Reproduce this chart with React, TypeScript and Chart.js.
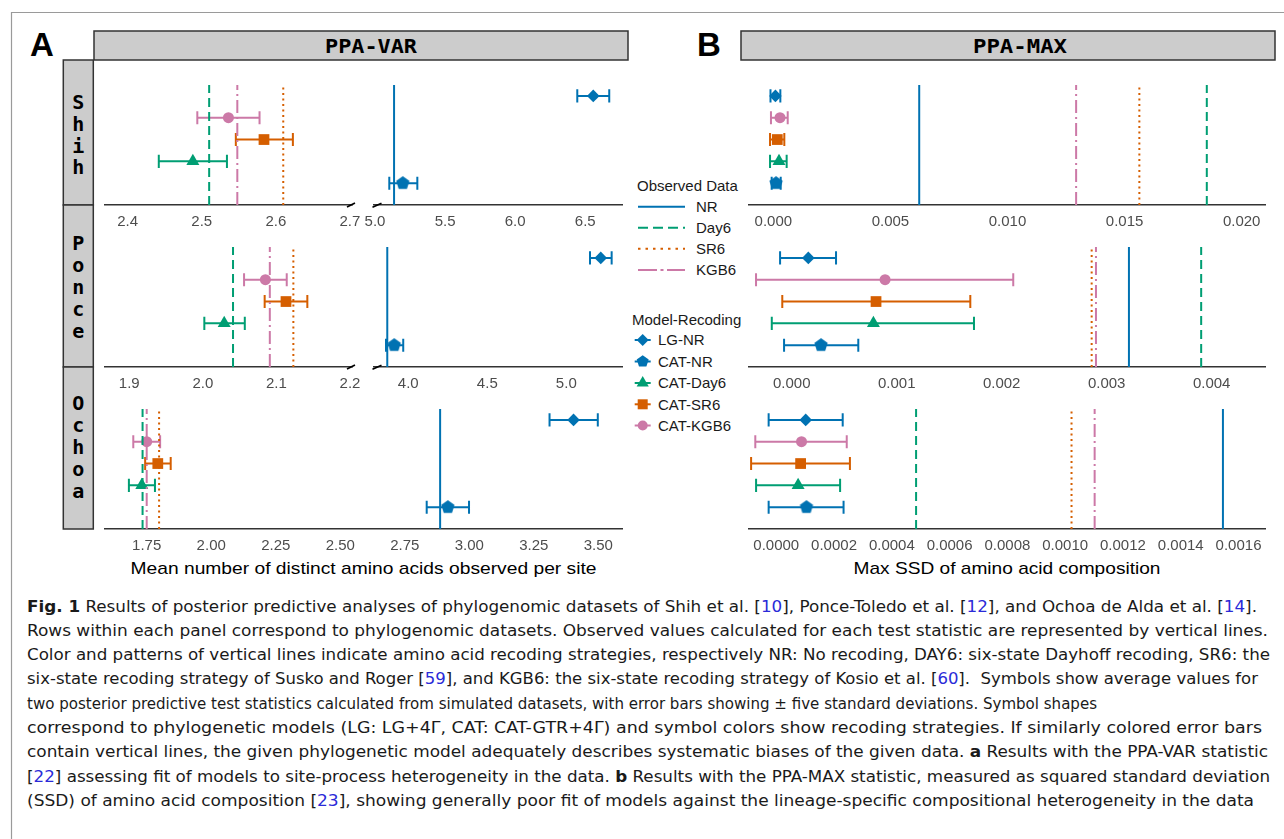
import React, { useEffect, useRef } from 'react';
import { Chart, registerables } from 'chart.js';
Chart.register(...registerables);

const FONT = "'Liberation Sans', Arial, sans-serif";
const MONO = "'DejaVu Sans Mono', monospace";
const CAPTION_FONT = "'DejaVu Sans Condensed', 'DejaVu Sans', sans-serif";

// ---------------- categories ----------------
const observedCodes = ['NR', 'Day6', 'SR6', 'KGB6'];
const models = ['LG-NR', 'CAT-NR', 'CAT-Day6', 'CAT-SR6', 'CAT-KGB6'];
const rowOrderBottomUp = ['CAT-NR', 'CAT-Day6', 'CAT-SR6', 'CAT-KGB6', 'LG-NR'];
const dataSets = ['Shih', 'Ponce', 'Ochoa'];

// ---------------- PPA-VAR ----------------
// observed values: NR, Day6, SR6, KGB6
const varObsShih = [5.136, 2.510, 2.610, 2.548];
const varObsPonce = [3.867, 2.041, 2.123, 2.091];
const varObsOchoa = [2.887, 1.734, 1.798, 1.750];
// simulated: LG-NR, CAT-NR, CAT-Day6, CAT-SR6, CAT-KGB6
const varMeanShih = [6.557, 5.198, 2.488, 2.584, 2.536];
const varLoShih = [6.443, 5.102, 2.442, 2.546, 2.494];
const varHiShih = [6.671, 5.302, 2.534, 2.623, 2.578];
const varMeanPonce = [5.218, 3.911, 2.029, 2.113, 2.085];
const varLoPonce = [5.150, 3.859, 2.002, 2.084, 2.056];
const varHiPonce = [5.287, 3.968, 2.057, 2.142, 2.114];
const varMeanOchoa = [3.404, 2.917, 1.731, 1.793, 1.750];
const varLoOchoa = [3.311, 2.835, 1.681, 1.744, 1.698];
const varHiOchoa = [3.498, 2.999, 1.782, 1.843, 1.802];

// ---------------- PPA-MAX ----------------
const maxObsShih = [0.00623, 0.01851, 0.01563, 0.01293];
const maxObsPonce = [0.003212, 0.0039, 0.002857, 0.002898];
const maxObsOchoa = [0.001546, 0.000484, 0.001022, 0.001102];
const maxMeanShih = [0.00009, 0.000115, 0.000243, 0.00017, 0.000286];
const maxLoShih = [-0.00012, -0.00007, -0.00014, -0.00014, -0.0001];
const maxHiShih = [0.0003, 0.000316, 0.00057, 0.00047, 0.000615];
const maxMeanPonce = [0.000158, 0.000279, 0.000778, 0.000803, 0.000889];
const maxLoPonce = [-0.000111, -0.000073, -0.00019, -0.00009, -0.00034];
const maxHiPonce = [0.000422, 0.000634, 0.001736, 0.001701, 0.00211];
const maxMeanOchoa = [0.000102, 0.0001047, 0.0000757, 0.0000843, 0.0000875];
const maxLoOchoa = [-0.0000263, -0.0000263, -0.0000698, -0.000087, -0.0000725];
const maxHiOchoa = [0.00023, 0.000233, 0.000221, 0.000255, 0.000244];

// ---------------- tick labels ----------------
const varTicksShihLow = ['2.4', '2.5', '2.6', '2.7'];
const varTicksShihHigh = ['5.0', '5.5', '6.0', '6.5'];
const varTicksPonceLow = ['1.9', '2.0', '2.1', '2.2'];
const varTicksPonceHigh = ['4.0', '4.5', '5.0'];
const varTicksOchoa = ['1.75', '2.00', '2.25', '2.50', '2.75', '3.00', '3.25', '3.50'];
const maxTicksShih = ['0.000', '0.005', '0.010', '0.015', '0.020'];
const maxTicksPonce = ['0.000', '0.001', '0.002', '0.003', '0.004'];
const maxTicksOchoa = ['0.0000', '0.0002', '0.0004', '0.0006', '0.0008', '0.0010', '0.0012', '0.0014', '0.0016'];

// ---------------- styles ----------------
const CODE_COLOR: Record<string, string> = { NR: '#0072B2', Day6: '#009E73', SR6: '#D55E00', KGB6: '#CC79A7' };
const CODE_DASH: Record<string, number[]> = { NR: [], Day6: [9, 5], SR6: [2, 3.5], KGB6: [13, 4, 2, 4] };
const MODEL_CODE: Record<string, string> = { 'LG-NR': 'NR', 'CAT-NR': 'NR', 'CAT-Day6': 'Day6', 'CAT-SR6': 'SR6', 'CAT-KGB6': 'KGB6' };
const MODEL_RADIUS: Record<string, number> = { 'LG-NR': 6.3, 'CAT-NR': 7, 'CAT-Day6': 7.5, 'CAT-SR6': 7.6, 'CAT-KGB6': 5.5 };

const PADX = 40, PADT = 12, AXISH = 44, YMAX = 5.5, CAP = 0.3;

function pentagonCanvas(color: string, R: number) {
  const size = Math.ceil(2 * R + 2);
  const c = document.createElement('canvas');
  c.width = size; c.height = size;
  const g = c.getContext('2d')!;
  g.fillStyle = color;
  g.beginPath();
  for (let k = 0; k < 5; k++) {
    const a = -Math.PI / 2 + (k * 2 * Math.PI) / 5;
    const px = size / 2 + R * Math.cos(a), py = size / 2 + R * Math.sin(a);
    if (k) g.lineTo(px, py); else g.moveTo(px, py);
  }
  g.closePath(); g.fill();
  return c;
}

function modelStyle(m: string): any {
  const col = CODE_COLOR[MODEL_CODE[m]];
  if (m === 'LG-NR') return 'rectRot';
  if (m === 'CAT-NR') return pentagonCanvas(col, MODEL_RADIUS[m]);
  if (m === 'CAT-Day6') return 'triangle';
  if (m === 'CAT-SR6') return 'rect';
  return 'circle';
}

const errorBarPlugin = {
  id: 'errorBars',
  beforeDatasetDraw(chart: any, args: any) {
    const ds = chart.data.datasets[args.index];
    if (ds.errLo === undefined) return;
    const { ctx, chartArea, scales } = chart;
    const x = scales.x, y = scales.y;
    const yv = ds.data[0].y;
    const yc = y.getPixelForValue(yv);
    const capPx = Math.abs(y.getPixelForValue(yv - CAP) - yc);
    const x1 = x.getPixelForValue(ds.errLo), x2 = x.getPixelForValue(ds.errHi);
    ctx.save();
    ctx.beginPath();
    ctx.rect(chartArea.left, chartArea.top - 20, chartArea.right - chartArea.left, chartArea.bottom - chartArea.top + 40);
    ctx.clip();
    ctx.strokeStyle = ds.borderColor;
    ctx.lineWidth = 2;
    ctx.lineCap = 'butt';
    ctx.beginPath();
    ctx.moveTo(x1, yc); ctx.lineTo(x2, yc);
    ctx.moveTo(x1, yc - capPx); ctx.lineTo(x1, yc + capPx);
    ctx.moveTo(x2, yc - capPx); ctx.lineTo(x2, yc + capPx);
    ctx.stroke();
    ctx.restore();
  },
};

const breakPlugin = {
  id: 'axisBreak',
  afterDraw(chart: any, _args: any, opts: any) {
    if (!opts || !opts.side) return;
    const { ctx, chartArea } = chart;
    const yb = chartArea.bottom;
    ctx.save();
    ctx.strokeStyle = '#000';
    ctx.lineWidth = 1.6;
    ctx.beginPath();
    if (opts.side === 'right') {
      const xr = chartArea.right;
      ctx.moveTo(xr - 5, yb + 2); ctx.lineTo(xr + 3, yb - 2);
    } else {
      const xl = chartArea.left;
      ctx.moveTo(xl - 1.5, yb + 2.3); ctx.lineTo(xl + 7.5, yb - 1.7);
    }
    ctx.stroke();
    ctx.restore();
  },
};

type Spec = {
  id: string; left: number; right: number; top: number; bottom: number;
  min: number; max: number; ticks: string[];
  obs: number[]; mean: number[]; lo: number[]; hi: number[]; brk?: string;
};

const ROWS = { Shih: [85, 205], Ponce: [247, 367], Ochoa: [409, 529] };

const specs: Spec[] = [
  { id: 'var-shih-lo', left: 105, right: 352, top: ROWS.Shih[0], bottom: ROWS.Shih[1], min: 2.3694, max: 2.7028, ticks: varTicksShihLow, obs: varObsShih, mean: varMeanShih, lo: varLoShih, hi: varHiShih, brk: 'right' },
  { id: 'var-shih-hi', left: 374, right: 622, top: ROWS.Shih[0], bottom: ROWS.Shih[1], min: 4.9929, max: 6.762, ticks: varTicksShihHigh, obs: varObsShih, mean: varMeanShih, lo: varLoShih, hi: varHiShih, brk: 'left' },
  { id: 'var-ponce-lo', left: 105, right: 352, top: ROWS.Ponce[0], bottom: ROWS.Ponce[1], min: 1.867, max: 2.2027, ticks: varTicksPonceLow, obs: varObsPonce, mean: varMeanPonce, lo: varLoPonce, hi: varHiPonce, brk: 'right' },
  { id: 'var-ponce-hi', left: 374, right: 622, top: ROWS.Ponce[0], bottom: ROWS.Ponce[1], min: 3.783, max: 5.3525, ticks: varTicksPonceHigh, obs: varObsPonce, mean: varMeanPonce, lo: varLoPonce, hi: varHiPonce, brk: 'left' },
  { id: 'var-ochoa', left: 105, right: 622, top: ROWS.Ochoa[0], bottom: ROWS.Ochoa[1], min: 1.5884, max: 3.5918, ticks: varTicksOchoa, obs: varObsOchoa, mean: varMeanOchoa, lo: varLoOchoa, hi: varHiOchoa },
  { id: 'max-shih', left: 749, right: 1265, top: ROWS.Shih[0], bottom: ROWS.Shih[1], min: -0.001038, max: 0.020995, ticks: maxTicksShih, obs: maxObsShih, mean: maxMeanShih, lo: maxLoShih, hi: maxHiShih },
  { id: 'max-ponce', left: 749, right: 1265, top: ROWS.Ponce[0], bottom: ROWS.Ponce[1], min: -0.000407, max: 0.004508, ticks: maxTicksPonce, obs: maxObsPonce, mean: maxMeanPonce, lo: maxLoPonce, hi: maxHiPonce },
  { id: 'max-ochoa', left: 749, right: 1265, top: ROWS.Ochoa[0], bottom: ROWS.Ochoa[1], min: -0.0000943, max: 0.0016916, ticks: maxTicksOchoa, obs: maxObsOchoa, mean: maxMeanOchoa, lo: maxLoOchoa, hi: maxHiOchoa },
];

function buildConfig(p: Spec): any {
  const vlines = observedCodes.map((code, i) => ({
    type: 'scatter', label: code, showLine: true,
    data: [{ x: p.obs[i], y: 0 }, { x: p.obs[i], y: YMAX }],
    borderColor: CODE_COLOR[code], borderWidth: 2, borderDash: CODE_DASH[code],
    pointRadius: 0, fill: false,
  }));
  const pts = models.map((m, i) => {
    const col = CODE_COLOR[MODEL_CODE[m]];
    return {
      type: 'scatter', label: m,
      data: [{ x: p.mean[i], y: rowOrderBottomUp.indexOf(m) + 1 }],
      pointStyle: modelStyle(m), pointRadius: MODEL_RADIUS[m],
      backgroundColor: col, borderColor: col, borderWidth: 0,
      errLo: p.lo[i], errHi: p.hi[i],
    };
  });
  const tickVals = p.ticks.map((t) => parseFloat(t));
  return {
    type: 'scatter',
    data: { datasets: [...vlines, ...pts] },
    options: {
      animation: false, responsive: false, maintainAspectRatio: false, events: [],
      layout: { padding: { left: PADX, right: PADX, top: PADT, bottom: 0 } },
      plugins: { legend: { display: false }, tooltip: { enabled: false }, axisBreak: { side: p.brk } },
      scales: {
        x: {
          type: 'linear', min: p.min, max: p.max,
          grid: { display: false, drawTicks: false },
          border: { display: true, color: '#333333', width: 1.5 },
          ticks: {
            padding: 8, autoSkip: false, maxRotation: 0, color: '#4d4d4d',
            font: { family: FONT, size: 15 },
            callback: (_v: any, i: number) => p.ticks[i],
          },
          afterBuildTicks: (s: any) => { s.ticks = tickVals.map((value) => ({ value })); },
          afterFit: (s: any) => { s.height = AXISH; },
        },
        y: { type: 'linear', min: 0, max: YMAX, display: false },
      },
    },
    plugins: [errorBarPlugin, breakPlugin],
  };
}

function RowChart({ p }: { p: Spec }) {
  const ref = useRef<HTMLCanvasElement>(null);
  const w = p.right - p.left + 2 * PADX;
  const h = p.bottom - p.top + PADT + AXISH;
  useEffect(() => {
    const chart = new Chart(ref.current as HTMLCanvasElement, buildConfig(p));
    return () => chart.destroy();
  }, []);
  return (
    <canvas ref={ref} width={w} height={h}
      style={{ position: 'absolute', left: p.left - PADX, top: p.top - PADT, width: w, height: h }} />
  );
}

// ---------------- legend shapes (svg) ----------------
function Marker({ m, cx, cy }: { m: string; cx: number; cy: number }) {
  const col = CODE_COLOR[MODEL_CODE[m]];
  const poly = (n: number, R: number, start: number) =>
    Array.from({ length: n }, (_, k) => {
      const a = start + (k * 2 * Math.PI) / n;
      return `${cx + R * Math.cos(a)},${cy + R * Math.sin(a)}`;
    }).join(' ');
  let shape: any;
  if (m === 'LG-NR') shape = <polygon points={poly(4, 6, 0)} fill={col} />;
  else if (m === 'CAT-NR') shape = <polygon points={poly(5, 6.3, -Math.PI / 2)} fill={col} />;
  else if (m === 'CAT-Day6') shape = <polygon points={poly(3, 7, -Math.PI / 2)} fill={col} />;
  else if (m === 'CAT-SR6') shape = <rect x={cx - 5} y={cy - 5} width={10} height={10} fill={col} />;
  else shape = <circle cx={cx} cy={cy} r={5} fill={col} />;
  return (
    <g>
      <line x1={cx - 8} y1={cy} x2={cx + 8} y2={cy} stroke={col} strokeWidth={2} />
      {shape}
    </g>
  );
}

const STRIP_BOX = { Shih: [60, 205], Ponce: [205, 367], Ochoa: [367, 529] };
const STRIP_BASE = { Shih: 109, Ponce: 250.3, Ochoa: 410.3 };

type Seg = [string, string];
const captionLines: Seg[][] = [
  [['Fig. 1', 'b'], [' Results of posterior predictive analyses of phylogenomic datasets of Shih et al. [', ''], ['10', 'l'], ['], Ponce-Toledo et al. [', ''], ['12', 'l'], ['], and Ochoa de Alda et al. [', ''], ['14', 'l'], ['].', '']],
  [['Rows within each panel correspond to phylogenomic datasets. Observed values calculated for each test statistic are represented by vertical lines.', '']],
  [['Color and patterns of vertical lines indicate amino acid recoding strategies, respectively NR: No recoding, DAY6: six-state Dayhoff recoding, SR6: the', '']],
  [['six-state recoding strategy of Susko and Roger [', ''], ['59', 'l'], ['], and KGB6: the six-state recoding strategy of Kosio et al. [', ''], ['60', 'l'], ['].  Symbols show average values for', '']],
  [['two posterior predictive test statistics calculated from simulated datasets, with error bars showing \u00b1 five standard deviations. Symbol shapes', '']],
  [['correspond to phylogenetic models (LG: LG+4\u0393, CAT: CAT-GTR+4\u0393) and symbol colors show recoding strategies. If similarly colored error bars', '']],
  [['contain vertical lines, the given phylogenetic model adequately describes systematic biases of the given data. ', ''], ['a', 'b'], [' Results with the PPA-VAR statistic', '']],
  [['[', ''], ['22', 'l'], ['] assessing fit of models to site-process heterogeneity in the data. ', ''], ['b', 'b'], [' Results with the PPA-MAX statistic, measured as squared standard deviation', '']],
  [['(SSD) of amino acid composition [', ''], ['23', 'l'], ['], showing generally poor fit of models against the lineage-specific compositional heterogeneity in the data', '']],
];
const captionEnds = [1257, 1268, 1270, 1258, 1097, 1262, 1268, 1270, 1254];

function Decorations() {
  const obsLegendY = [206.7, 227.7, 248.7, 270];
  const modelLegendY = [340, 361.5, 383, 404.3, 425.5];
  return (
    <svg width={1284} height={839} style={{ position: 'absolute', left: 0, top: 0 }}>
      <line x1={11.5} y1={12} x2={11.5} y2={839} stroke="#9a9a9a" strokeWidth={1.2} />
      <line x1={11} y1={12.5} x2={1284} y2={12.5} stroke="#9a9a9a" strokeWidth={1.2} />
      <text x={30} y={56} fontFamily={FONT} fontWeight="bold" fontSize={33}>A</text>
      <text x={697} y={56} fontFamily={FONT} fontWeight="bold" fontSize={33}>B</text>
      <rect x={94} y={31} width={534} height={29} fill="#cccccc" stroke="#333" strokeWidth={1.5} />
      <text x={371} y={53.3} textAnchor="middle" fontFamily={MONO} fontWeight="bold" fontSize={20}
        textLength={92} lengthAdjust="spacingAndGlyphs">PPA-VAR</text>
      <rect x={741} y={31} width={534} height={29} fill="#cccccc" stroke="#333" strokeWidth={1.5} />
      <text x={1020} y={53.3} textAnchor="middle" fontFamily={MONO} fontWeight="bold" fontSize={20}
        textLength={94} lengthAdjust="spacingAndGlyphs">PPA-MAX</text>
      {dataSets.map((d) => {
        const [t, b] = (STRIP_BOX as any)[d];
        const base = (STRIP_BASE as any)[d];
        return (
          <g key={d}>
            <rect x={63.3} y={t} width={30} height={b - t} fill="#cccccc" stroke="#333" strokeWidth={1.5} />
            {d.split('').map((ch, k) => (
              <text key={k} x={78.3} y={base + k * 21.8} textAnchor="middle" fontFamily={MONO}
                fontWeight="bold" fontSize={20}>{ch}</text>
            ))}
          </g>
        );
      })}
      {/* legend: observed */}
      <text x={637} y={191} fontFamily={FONT} fontSize={15} fill="#1a1a1a">Observed Data</text>
      {observedCodes.map((c, i) => (
        <g key={c}>
          <line x1={638} y1={obsLegendY[i]} x2={685} y2={obsLegendY[i]} stroke={CODE_COLOR[c]} strokeWidth={2}
            strokeDasharray={CODE_DASH[c].length ? (c === 'KGB6' ? '19 3.5 3 3.5' : c === 'SR6' ? '2.5 5' : '10 5') : undefined} />
          <text x={696} y={obsLegendY[i] + 5.4} fontFamily={FONT} fontSize={15} fill="#1a1a1a">{c}</text>
        </g>
      ))}
      <text x={632} y={324.7} fontFamily={FONT} fontSize={15} fill="#1a1a1a">Model-Recoding</text>
      {models.map((m, i) => (
        <g key={m}>
          <Marker m={m} cx={642.7} cy={modelLegendY[i]} />
          <text x={658} y={modelLegendY[i] + 5.4} fontFamily={FONT} fontSize={15} fill="#1a1a1a">{m}</text>
        </g>
      ))}
      {/* axis titles */}
      <text x={363.5} y={574} textAnchor="middle" fontFamily={FONT} fontSize={17} fill="#000"
        textLength={466} lengthAdjust="spacingAndGlyphs">Mean number of distinct amino acids observed per site</text>
      <text x={1007} y={574} textAnchor="middle" fontFamily={FONT} fontSize={17} fill="#000"
        textLength={307} lengthAdjust="spacingAndGlyphs">Max SSD of amino acid composition</text>
      {/* caption */}
      {captionLines.map((segs, i) => (
        <text key={i} x={27} y={611.5 + i * 24.3} fontFamily={CAPTION_FONT} fontSize={16.5} fill="#1a1a1a"
          textLength={captionEnds[i] - 27} lengthAdjust="spacingAndGlyphs" style={{ whiteSpace: 'pre' }}>
          {segs.map(([s, st], k) => (
            <tspan key={k} fontWeight={st === 'b' ? 'bold' : undefined} fill={st === 'l' ? '#2a2ad8' : undefined}>{s}</tspan>
          ))}
        </text>
      ))}
    </svg>
  );
}

export default function App() {
  return (
    <div style={{ position: 'absolute', left: 0, top: 0, width: 1284, height: 839, background: '#ffffff', overflow: 'hidden' }}>
      <Decorations />
      {specs.map((p) => <RowChart key={p.id} p={p} />)}
    </div>
  );
}
